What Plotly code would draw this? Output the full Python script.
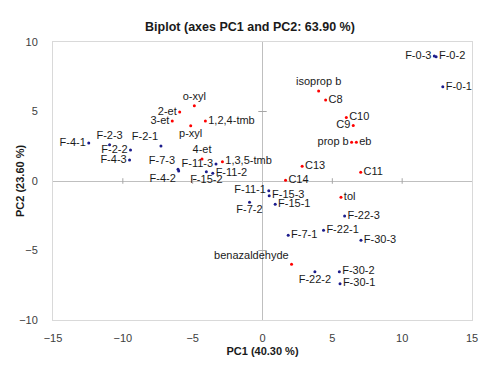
import plotly.graph_objects as go

# Observations (blue)
obs_names = ["F-0-1", "F-0-2", "F-0-3", "F-4-1", "F-2-3", "F-2-2", "F-4-3", "F-2-1",
             "F-7-3", "F-4-2", "F-11-3", "F-15-2", "F-11-2", "F-11-1", "F-15-3", "F-7-2",
             "F-15-1", "F-7-1", "F-22-1", "F-22-3", "F-30-3", "F-22-2", "F-30-2", "F-30-1"]
obs_x = [12.91, 12.43, 12.3, -12.44, -10.95, -9.45, -9.52, -7.27,
         -6.05, -6.0, -3.33, -4.02, -3.56, 0.45, 0.48, -0.93,
         0.91, 1.84, 4.37, 5.88, 7.05, 3.75, 5.5, 5.55]
obs_y = [6.78, 8.94, 9.0, 2.73, 2.61, 2.23, 1.51, 2.52,
         0.85, 0.72, 1.22, 0.67, 0.55, -0.70, -1.06, -1.53,
         -1.68, -3.91, -3.55, -2.52, -4.27, -6.52, -6.52, -7.39]
obs_pos = ["middle right", "middle right", "middle left", "middle left", "top center",
           "middle left", "middle left", "top left", "top left", "bottom left",
           "middle left", "bottom center", "middle right", "middle left", "middle right",
           "bottom center", "middle right", "middle right", "middle right", "middle right",
           "middle right", "bottom center", "middle right", "middle right"]

# Variables (red)
var_names = ["o-xyl", "2-et", "3-et", "1,2,4-tmb", "p-xyl", "4-et", "1,3,5-tmb",
             "isoprop b", "C8", "C10", "C9", "prop b", "eb", "C13", "C11", "C14",
             "tol", "benazaldehyde"]
var_x = [-4.88, -5.93, -6.46, -4.09, -5.14, -4.33, -2.87,
         4.02, 4.52, 6.0, 6.5, 6.38, 6.72, 2.84, 7.03, 1.65,
         5.62, 2.08]
var_y = [5.42, 4.96, 4.32, 4.32, 3.98, 1.58, 1.39,
         6.47, 5.83, 4.56, 4.0, 2.78, 2.78, 1.06, 0.63, 0.05,
         -1.17, -5.99]
var_pos = ["top center", "middle left", "middle left", "middle right", "bottom center",
           "top center", "middle right", "top center", "middle right", "middle right",
           "middle left", "middle left", "middle right", "middle right", "middle right",
           "middle right", "middle right", "top left"]

x_ticks = [-15, -10, -5, 0, 5, 10, 15]
y_ticks = [-10, -5, 0, 5, 10]

FAM = "Liberation Sans, Arial, sans-serif"
LABEL_FONT = dict(family=FAM, size=11, color="#1a1a1a")

fig = go.Figure()
fig.add_trace(go.Scatter(x=obs_x, y=obs_y, mode="markers+text", text=obs_names,
                         textposition=obs_pos, textfont=LABEL_FONT,
                         marker=dict(color="#1c1c8c", size=3), showlegend=False,
                         cliponaxis=False))
fig.add_trace(go.Scatter(x=var_x, y=var_y, mode="markers+text", text=var_names,
                         textposition=var_pos, textfont=LABEL_FONT,
                         marker=dict(color="#ff0000", size=3), showlegend=False,
                         cliponaxis=False))

# crossing tick marks on the zero axes
shapes = []
for t in x_ticks:
    if t in (-15, 0, 15):
        continue
    shapes.append(dict(type="line", xref="x", yref="y", x0=t, x1=t, y0=-0.2, y1=0.2,
                       line=dict(color="#a6a6a6", width=1)))
for t in y_ticks:
    if t in (-10, 0, 10):
        continue
    shapes.append(dict(type="line", xref="x", yref="y", x0=-0.3, x1=0.3, y0=t, y1=t,
                       line=dict(color="#a6a6a6", width=1)))

axis_font = dict(family=FAM, size=11, color="#404040")
fig.update_layout(
    width=500, height=373,
    margin=dict(l=53, r=28, t=42, b=53, autoexpand=False),
    paper_bgcolor="white", plot_bgcolor="white",
    title=dict(text="<b>Biplot (axes PC1 and PC2: 63.90 %)</b>", x=0.5, xref="container",
               xanchor="center", y=0.94, yref="container",
               font=dict(family=FAM, size=12.5, color="#1a1a1a")),
    xaxis=dict(range=[-15, 15], tickvals=x_ticks, showgrid=False, zeroline=True,
               zerolinecolor="#bfbfbf", zerolinewidth=1, showline=True, mirror=True,
               linecolor="#d9d9d9", linewidth=1, ticks="outside", ticklen=8,
               tickcolor="rgba(0,0,0,0)", tickfont=axis_font, automargin=False,
               title=dict(text="<b>PC1 (40.30 %)</b>", standoff=4,
                          font=dict(family=FAM, size=11, color="#1a1a1a"))),
    yaxis=dict(range=[-10, 10], tickvals=y_ticks, showgrid=False, zeroline=True,
               zerolinecolor="#bfbfbf", zerolinewidth=1, showline=True, mirror=True,
               linecolor="#d9d9d9", linewidth=1, ticks="outside", ticklen=12,
               tickcolor="rgba(0,0,0,0)", tickfont=axis_font, automargin=False),
    annotations=[dict(text="<b>PC2 (23.60 %)</b>", textangle=-90, xref="paper", yref="paper",
                      x=0, y=0.5, xanchor="center", yanchor="middle", xshift=-33,
                      showarrow=False, font=dict(family=FAM, size=11, color="#1a1a1a"))],
    shapes=shapes,
)

fig.write_html("out.html", config={"displayModeBar": False},
               post_script="document.body.style.margin='0';document.body.style.padding='0';")
